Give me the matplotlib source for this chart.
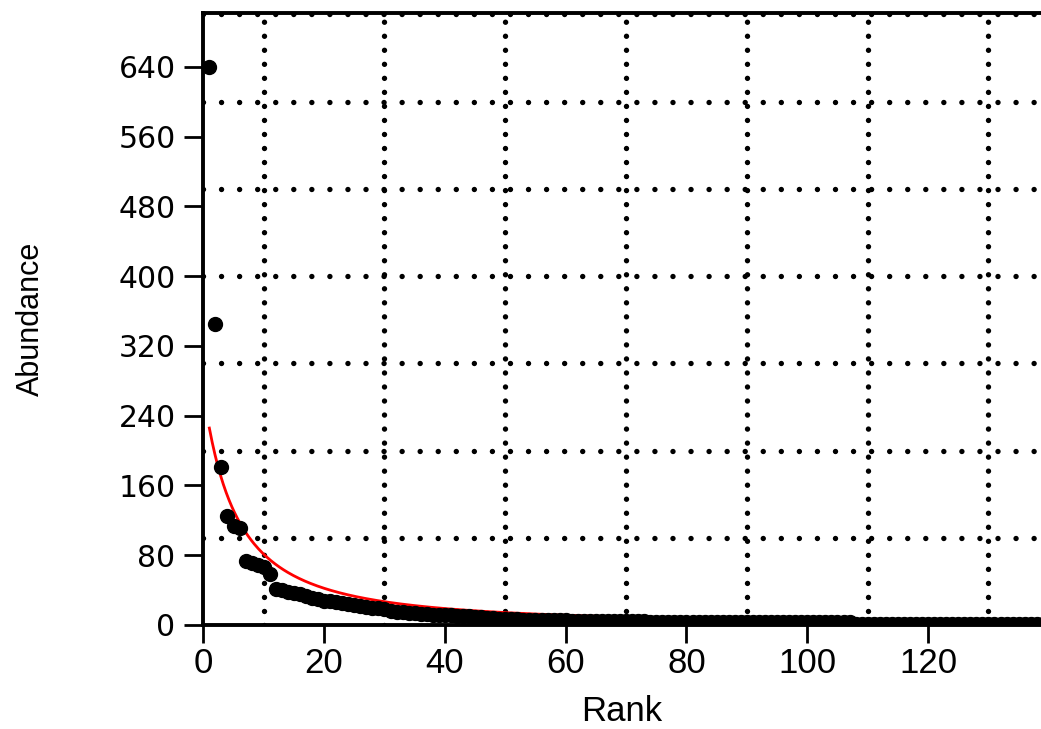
import matplotlib
matplotlib.use("Agg")
import matplotlib.pyplot as plt
import numpy as np

# Rank-abundance data: abundance of each species ordered by rank
abundance = [
    640, 345, 181, 125, 113, 111, 73, 71, 69, 66,
    59, 41, 40, 38, 37, 35, 33, 31, 30, 28,
    27, 26, 25, 24, 23, 22, 21, 20, 19, 18,
    16, 15, 15, 14, 14, 13, 13, 12, 12, 11,
    11, 10, 10, 10, 9, 9, 8, 8, 7, 7,
    7, 7, 6, 6, 6, 6, 6, 6, 6, 6,
    5, 5, 5, 5, 5, 5, 5, 5, 5, 5,
    5, 5, 5, 3, 3, 3, 3, 3, 3, 3,
    3, 3, 3, 3, 3, 3, 3, 3, 3, 3,
    3, 3, 3, 3, 3, 3, 3, 3, 3, 3,
    3, 3, 3, 3, 3, 3, 3, 1, 1, 1,
    1, 1, 1, 1, 1, 1, 1, 1, 1, 1,
    1, 1, 1, 1, 1, 1, 1, 1, 1, 1,
    1, 1, 1, 1, 1, 1, 1, 1, 1, 1,
]
ranks = list(range(1, len(abundance) + 1))

# Zipf-Mandelbrot model fitted to the abundances: a * (rank + c) ** -b
zm_scale = 6300.0
zm_shift = 8.2
zm_exponent = 1.5

x_ticks = [0, 20, 40, 60, 80, 100, 120]
y_ticks = [0, 80, 160, 240, 320, 400, 480, 560, 640]
x_grid = [10, 30, 50, 70, 90, 110, 130]
y_grid = [100, 200, 300, 400, 500, 600, 700]

plt.rcParams["lines.scale_dashes"] = False
plt.rcParams["font.family"] = ["Liberation Sans", "DejaVu Sans"]

fig = plt.figure(figsize=(10.41, 7.29), dpi=100)
ax = fig.add_axes([0.1953, 0.1427, 0.8047, 0.8399])

ax.set_xlim(0, 138.7)
ax.set_ylim(0, 702)

# Dotted reference lines
for gx in x_grid:
    ax.axvline(gx, color="black", lw=3.9, linestyle=(0, (0.001, 10.1)),
               dash_capstyle="round", zorder=1)
for gy in y_grid:
    ax.axhline(gy, color="black", lw=3.9, linestyle=(0, (0.001, 13.0)),
               dash_capstyle="round", zorder=1)

# Fitted model curve
r = np.linspace(1, 140, 600)
fit = zm_scale * (r + zm_shift) ** (-zm_exponent)
ax.plot(r, fit, color="#ff0000", lw=2.0, zorder=3)

# Observed abundances
ax.plot(ranks, abundance, linestyle="none", marker="o", markersize=10.0,
        color="black", zorder=4)

ax.set_xticks(x_ticks)
ax.set_yticks(y_ticks)
ax.tick_params(axis="x", direction="out", length=13, width=2.0, pad=3,
               labelsize=25)
ax.tick_params(axis="y", direction="out", length=14, width=2.0, pad=6,
               labelsize=21.5)
for lbl in ax.get_yticklabels():
    lbl.set_family(["DejaVu Sans"])

for side in ("left", "bottom", "top"):
    ax.spines[side].set_linewidth(2.8)
ax.spines["right"].set_visible(False)

ax.set_xlabel("Rank", fontsize=25, labelpad=11)
ax.set_ylabel("Abundance", fontsize=22, labelpad=52)

fig.savefig("out.png", dpi=100)
